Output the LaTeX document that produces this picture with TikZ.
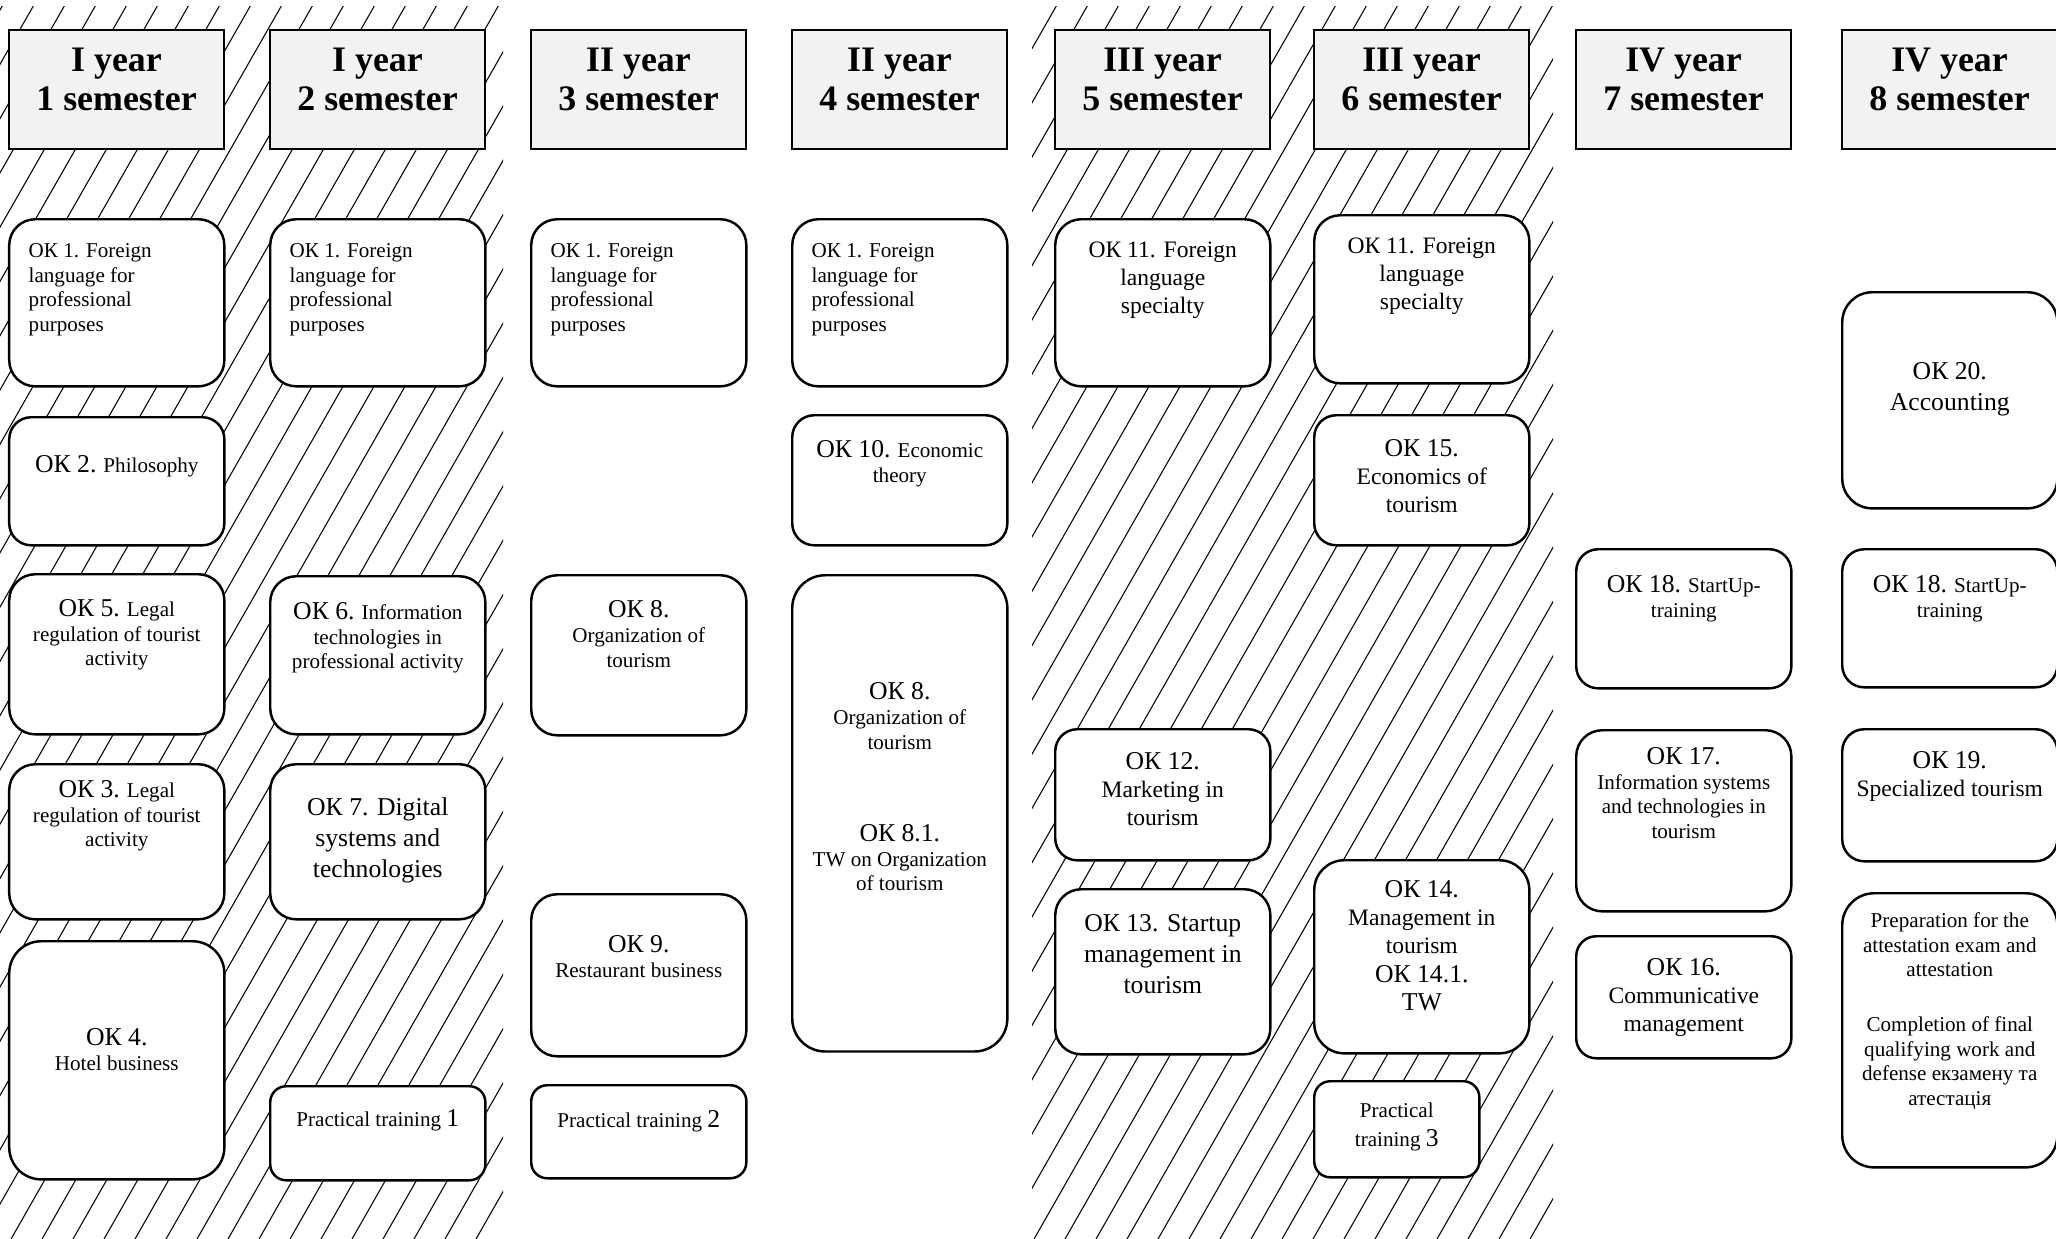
\documentclass[tikz,border=0pt]{standalone}
\usepackage{fontspec}
\setmainfont{Liberation Serif}
\usetikzlibrary{positioning}

\newcommand{\szS}{\fontsize{6}{7}\selectfont}
\newcommand{\szM}{\fontsize{6.7}{8}\selectfont}
\newcommand{\szL}{\fontsize{7.3}{8.8}\selectfont}

\begin{document}
\begin{tikzpicture}[x=0.01cm, y=-0.01cm,
  semhead/.style={draw, line width=0.55pt, fill=black!5, minimum width=2.15cm, minimum height=1.19cm, anchor=north west, inner sep=0pt},
  headtxt/.style={font=\fontsize{10.2}{11.1}\selectfont\bfseries, align=center, inner sep=0pt},
  course/.style={draw, line width=0.7pt, fill=white, rounded corners=0.26cm, minimum width=2.15cm, anchor=north west, inner sep=0pt},
  txt/.style={font=\szS, align=center, inner sep=0pt},
  txtl/.style={font=\szS, align=left, inner sep=0pt},
  hatch/.style={line width=0.3pt}]
  \useasboundingbox (0,0) rectangle (2056,1239);

  % hatched bands (years I and III)
  \begin{scope}
    \clip (0,6) rectangle (503,1239);
    \foreach \k in {-24,...,16} \draw[hatch] (11+31*\k,1239) -- ++(714,-1250);
  \end{scope}
  \begin{scope}
    \clip (1032,6) rectangle (1553,1239);
    \foreach \k in {10,...,50} \draw[hatch] (11+31*\k,1239) -- ++(714,-1250);
  \end{scope}

  % semester headers
  \node[semhead] (h1) at (8,29) {};
  \node[headtxt, below=0.18cm of h1.north] (h1t) {I year\\1 semester};
  \node[semhead] (h2) at (269,29) {};
  \node[headtxt, below=0.18cm of h2.north] (h2t) {I year\\2 semester};
  \node[semhead] (h3) at (530,29) {};
  \node[headtxt, below=0.18cm of h3.north] (h3t) {II year\\3 semester};
  \node[semhead] (h4) at (791,29) {};
  \node[headtxt, below=0.18cm of h4.north] (h4t) {II year\\4 semester};
  \node[semhead] (h5) at (1054,29) {};
  \node[headtxt, below=0.18cm of h5.north] (h5t) {III year\\5 semester};
  \node[semhead] (h6) at (1313,29) {};
  \node[headtxt, below=0.18cm of h6.north] (h6t) {III year\\6 semester};
  \node[semhead] (h7) at (1575,29) {};
  \node[headtxt, below=0.18cm of h7.north] (h7t) {IV year\\7 semester};
  \node[semhead] (h8) at (1841,29) {};
  \node[headtxt, below=0.18cm of h8.north] (h8t) {IV year\\8 semester};

  % 1 semester
  \node[course, minimum height=1.67cm] (c1a) at (8,218) {};
  \node[txtl, below right=0.25cm and 0.2cm of c1a.north west] (c1at) {ОК 1. Foreign\\language for\\professional\\purposes};
  \node[course, minimum height=1.28cm, rounded corners=0.22cm] (c1b) at (8,416) {};
  \node[txt, below=0.39cm of c1b.north] (c1bt) {{\szL ОК 2.} Philosophy};
  \node[course, minimum height=1.60cm] (c1c) at (8,573) {};
  \node[txt, below=0.26cm of c1c.north] (c1ct) {{\szL ОК 5.} Legal\\regulation of tourist\\activity};
  \node[course, minimum height=1.55cm] (c1d) at (8,763) {};
  \node[txt, below=0.17cm of c1d.north] (c1dt) {{\szL ОК 3.} Legal\\regulation of tourist\\activity};
  \node[course, minimum height=2.38cm, rounded corners=0.32cm] (c1e) at (8,940) {};
  \node[txt, below=0.88cm of c1e.north] (c1et) {{\szL ОК 4.}\\Hotel business};

  % 2 semester
  \node[course, minimum height=1.67cm] (c2a) at (269,218) {};
  \node[txtl, below right=0.25cm and 0.2cm of c2a.north west] (c2at) {ОК 1. Foreign\\language for\\professional\\purposes};
  \node[course, minimum height=1.58cm] (c2b) at (269,575) {};
  \node[txt, below=0.27cm of c2b.north] (c2bt) {{\szL ОК 6.} Information\\technologies in\\professional activity};
  \node[course, minimum height=1.55cm] (c2c) at (269,763) {};
  \node[txt, font=\szL, below=0.34cm of c2c.north] (c2ct) {ОК 7. Digital\\systems and\\technologies};
  \node[course, minimum height=0.94cm, rounded corners=0.16cm] (c2d) at (269,1085) {};
  \node[txt, below=0.24cm of c2d.north] (c2dt) {Practical training {\szL 1}};

  % 3 semester
  \node[course, minimum height=1.67cm] (c3a) at (530,218) {};
  \node[txtl, below right=0.25cm and 0.2cm of c3a.north west] (c3at) {ОК 1. Foreign\\language for\\professional\\purposes};
  \node[course, minimum height=1.60cm] (c3b) at (530,574) {};
  \node[txt, below=0.26cm of c3b.north] (c3bt) {{\szL ОК 8.}\\Organization of\\tourism};
  \node[course, minimum height=1.62cm] (c3c) at (530,893) {};
  \node[txt, below=0.42cm of c3c.north] (c3ct) {{\szL ОК 9.}\\Restaurant business};
  \node[course, minimum height=0.93cm, rounded corners=0.16cm] (c3d) at (530,1084) {};
  \node[txt, below=0.26cm of c3d.north] (c3dt) {Practical training {\szL 2}};

  % 4 semester
  \node[course, minimum height=1.67cm] (c4a) at (791,218) {};
  \node[txtl, below right=0.25cm and 0.2cm of c4a.north west] (c4at) {ОК 1. Foreign\\language for\\professional\\purposes};
  \node[course, minimum height=1.30cm, rounded corners=0.22cm] (c4b) at (791,414) {};
  \node[txt, below=0.26cm of c4b.north] (c4bt) {{\szL ОК 10.} Economic\\theory};
  \node[course, minimum height=4.76cm, rounded corners=0.33cm] (c4c) at (791,574) {};
  \node[txt, below=1.08cm of c4c.north] (c4ct) {{\szL ОК 8.}\\Organization of\\tourism\\[0.68cm]{\szL ОК 8.1.}\\TW on Organization\\of tourism};

  % 5 semester
  \node[course, minimum height=1.67cm] (c5a) at (1054,218) {};
  \node[txt, font=\szM, below=0.23cm of c5a.north] (c5at) {ОК 11. Foreign\\language\\specialty};
  \node[course, minimum height=1.31cm, rounded corners=0.22cm] (c5b) at (1054,728) {};
  \node[txt, font=\szM, below=0.24cm of c5b.north] (c5bt) {{\szL ОК 12.}\\Marketing in\\tourism};
  \node[course, minimum height=1.65cm] (c5c) at (1054,888) {};
  \node[txt, font=\szL, below=0.26cm of c5c.north] (c5ct) {ОК 13. Startup\\management in\\tourism};

  % 6 semester
  \node[course, minimum height=1.68cm] (c6a) at (1313,214) {};
  \node[txt, font=\szM, below=0.23cm of c6a.north] (c6at) {ОК 11. Foreign\\language\\specialty};
  \node[course, minimum height=1.30cm, rounded corners=0.22cm] (c6b) at (1313,414) {};
  \node[txt, font=\szM, below=0.25cm of c6b.north] (c6bt) {{\szL ОК 15.}\\Economics of\\tourism};
  \node[course, minimum height=1.93cm, rounded corners=0.3cm] (c6c) at (1313,859) {};
  \node[txt, font=\szM, below=0.21cm of c6c.north] (c6ct) {{\szL ОК 14.}\\Management in\\tourism\\{\szL ОК 14.1.}\\{\szL TW}};
  \node[course, minimum width=1.65cm, minimum height=0.96cm, rounded corners=0.16cm] (c6d) at (1313,1080) {};
  \node[txt, below=0.22cm of c6d.north] (c6dt) {Practical\\[0.05cm]training {\szL 3}};

  % 7 semester
  \node[course, minimum height=1.39cm, rounded corners=0.22cm] (c7a) at (1575,548) {};
  \node[txt, below=0.27cm of c7a.north] (c7at) {{\szL ОК 18.} StartUp-\\training};
  \node[course, minimum height=1.81cm] (c7b) at (1575,729) {};
  \node[txt, below=0.18cm of c7b.north] (c7bt) {{\szL ОК 17.}\\Information systems\\and technologies in\\tourism};
  \node[course, minimum height=1.22cm, rounded corners=0.2cm] (c7c) at (1575,935) {};
  \node[txt, font=\szM, below=0.23cm of c7c.north] (c7ct) {{\szL ОК 16.}\\Communicative\\management};

  % 8 semester
  \node[course, minimum height=2.16cm, rounded corners=0.3cm] (c8a) at (1841,291) {};
  \node[txt, font=\szL, below=0.71cm of c8a.north] (c8at) {ОК 20.\\Accounting};
  \node[course, minimum height=1.38cm, rounded corners=0.22cm] (c8b) at (1841,548) {};
  \node[txt, below=0.27cm of c8b.north] (c8bt) {{\szL ОК 18.} StartUp-\\training};
  \node[course, minimum height=1.32cm, rounded corners=0.22cm] (c8c) at (1841,728) {};
  \node[txt, font=\szM, below=0.23cm of c8c.north] (c8ct) {{\szL ОК 19.}\\Specialized tourism};
  \node[course, minimum height=2.74cm, rounded corners=0.32cm] (c8d) at (1841,892) {};
  \node[txt, below=0.20cm of c8d.north] (c8dt) {Preparation for the\\attestation exam and\\attestation\\[0.3cm]Completion of final\\qualifying work and\\defense екзамену та\\атестація};
\end{tikzpicture}
\end{document}
